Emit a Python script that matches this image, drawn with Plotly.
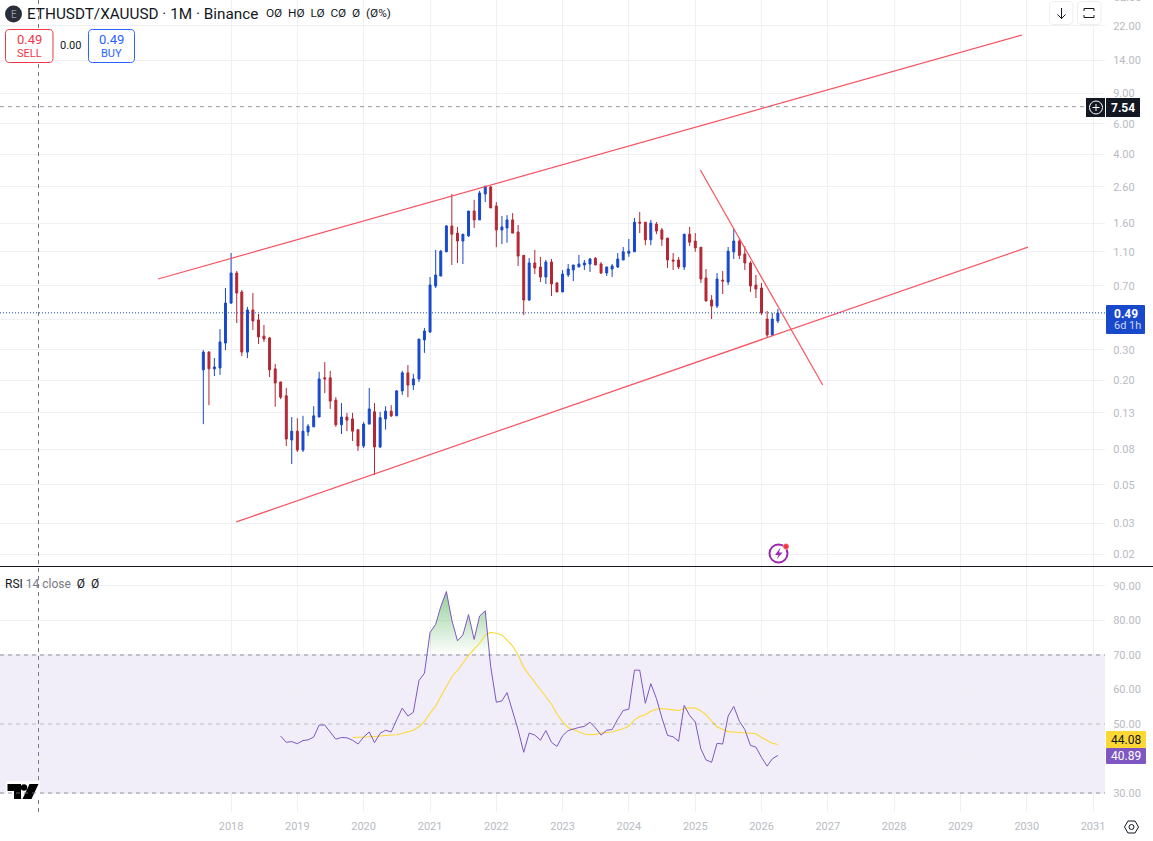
import math
import pandas as pd
import plotly.graph_objs as go

# monthly candles, Aug 2017 to Apr 2026
high = [0.299,0.295,0.269,0.395,0.681,1.084,0.853,0.663,0.530,0.637,0.482,0.417,0.356,0.249,0.196,0.181,0.123,0.121,0.125,0.112,0.142,0.224,0.255,0.227,0.160,0.148,0.130,0.130,0.104,0.115,0.181,
        0.148,0.132,0.142,0.144,0.176,0.227,0.245,0.218,0.346,0.401,0.788,1.128,1.128,1.571,2.37,1.53,1.394,1.89,2.19,2.47,2.635,2.635,2.13,1.77,1.79,1.84,1.571,1.056,1.014,1.128,1.028,0.988,1.0,0.738,0.865,0.936,0.924,1.056,
        0.987,1.014,1.027,0.961,0.900,0.936,1.083,1.173,1.304,1.724,1.866,1.634,1.678,1.634,1.509,1.322,1.083,1.027,1.394,1.529,1.412,1.173,0.876,0.620,0.831,0.853,1.173,1.489,1.304,1.188,0.974,0.809,0.728,0.502,0.489,0.516]
body_top = [0.291,0.291,0.239,0.333,0.558,0.831,0.831,0.646,0.509,0.509,0.446,0.360,0.351,0.233,0.196,0.163,0.102,0.102,0.102,0.109,0.125,0.204,0.207,0.207,0.154,0.123,0.123,0.120,0.104,0.112,0.137,0.132,0.122,0.133,0.133,
            0.174,0.221,0.221,0.204,0.346,0.385,0.709,0.809,1.11,1.55,1.55,1.41,1.39,1.89,1.89,2.4,2.63,2.6,2.02,1.53,1.68,1.68,1.43,1.05,0.949,0.949,0.9,0.961,0.961,0.728,0.82,0.876,0.924,0.936,0.949,
            1,1.01,0.936,0.9,0.912,1,1.1,1.11,1.63,1.63,1.63,1.61,1.59,1.47,1.32,0.987,0.987,1.39,1.39,1.27,1.17,0.778,0.581,0.767,0.757,1.11,1.27,1.27,1.07,0.949,0.709,0.681,0.451,0.451,0.489]
body_bot = [0.23,0.233,0.233,0.236,0.328,0.558,0.637,0.291,0.291,0.44,0.356,0.346,0.23,0.193,0.16,0.0919,0.0907,0.0794,0.0794,0.101,0.108,0.123,0.204,0.152,0.111,0.111,0.118,0.102,0.0838,0.0838,0.112,0.0827,0.0827,0.12,0.125,
            0.125,0.174,0.188,0.188,0.204,0.342,0.38,0.699,0.798,1.1,1.39,1.27,1.27,1.36,1.68,1.68,2.37,1.97,1.47,1.47,1.51,1.41,1.04,0.581,0.581,0.888,0.788,0.788,0.718,0.646,0.646,0.809,0.865,0.9,0.924,
            0.936,0.924,0.831,0.831,0.876,0.9,0.987,1.08,1.1,1.61,1.29,1.29,1.45,1.3,0.987,0.974,0.9,0.9,1.25,1.16,0.767,0.573,0.536,0.536,0.747,0.737,1.1,1.05,0.949,0.699,0.672,0.489,0.365,0.365,0.44]
low = [0.112,0.144,0.212,0.215,0.299,0.551,0.428,0.276,0.269,0.39,0.324,0.333,0.209,0.141,0.156,0.0838,0.066,0.0774,0.0774,0.0957,0.108,0.123,0.169,0.137,0.108,0.0982,0.102,0.0895,0.0784,0.0816,0.112,0.057,0.0816,0.104,0.123,0.125,0.165,0.16,0.176,0.196,0.288,0.375,0.681,0.798,1.1,0.924,0.949,0.936,1.34,1.51,1.68,2.13,1.97,1.17,1.22,1.24,1.41,0.912,0.476,0.573,0.82,0.737,0.718,0.612,0.646,0.646,0.788,0.747,0.9,0.865,0.842,0.924,0.82,0.798,0.788,0.888,0.987,1.03,1.1,1.41,1.2,1.2,1.39,1.19,0.888,0.865,0.876,0.865,1.19,1.1,0.728,0.573,0.451,0.522,0.629,0.709,1,1,0.865,0.646,0.596,0.476,0.351,0.36,0.428]
# 1 = closed up
up_month = [1,0,1,1,1,1,0,0,1,0,0,0,0,0,0,0,1,0,1,1,1,1,0,0,0,1,0,0,0,1,1,
            0,1,1,0,1,1,0,1,1,1,1,1,1,1,0,0,1,1,0,1,1,0,0,1,1,0,0,0,1,0,0,1,0,0,1,1,1,1,
            1,1,0,0,1,1,1,1,1,1,0,0,1,0,0,0,0,0,1,0,0,0,0,0,1,0,1,1,0,0,0,0,0,0,1,1]

rsi_vals = [46.5,44.7,44.9,44.3,45.2,45.4,46.2,49.7,49.7,47.6,45.6,46.1,46.0,45.3,44.2,46.2,47.7,44.6,47.3,48.2,47.7,51.2,54.6,52.3,53.4,62.6,64.7,76.5,78.9,84.0,88.4,80.1,74.1,75.8,81.7,74.5,81.3,82.8,66.6,56.3,56.7,59.1,53.6,48.3,41.8,47.4,46.8,45.3,
            48.1,44.7,43.5,46.6,48.1,48.6,49.0,49.3,50.5,48.9,46.8,48.2,48.4,51.4,53.9,54.3,65.6,65.6,56.0,61.7,57.4,51.8,46.7,46.3,45.0,55.4,52.5,50.6,42.8,39.6,38.9,44.4,44.2,52.3,55.1,50.8,48.4,43.8,43.3,40.3,37.8,39.9,40.89]
rsi_ma = [46.1,46.1,46.2,46.3,46.4,46.6,46.7,46.8,46.9,47.3,47.7,48.2,49.2,50.7,53.1,55.2,58.0,61.0,63.7,65.5,67.7,69.9,71.7,73.4,75.8,76.6,76.3,75.8,74.3,72.6,70.0,66.4,64.2,62.1,60.2,
          57.9,55.8,52.9,50.6,49.0,48.4,47.8,47.1,46.9,47.0,47.4,47.6,47.7,48.2,48.6,49.4,51.2,52.2,52.7,53.7,54.3,54.5,54.2,54.1,53.9,54.5,54.7,54.6,53.8,52.7,50.8,49.2,48.4,47.8,47.7,47.6,47.6,47.4,47.2,46.1,45.1,44.4,44.08]

# trend lines
channel_dates = ["2016-11-25", "2029-12-05"]
channel_top = [0.767, 19.5]
channel_low_dates = ["2018-01-29", "2030-01-07"]
channel_low = [0.0306, 1.17]
wedge_dates = ["2025-01-29", "2026-12-04"]
wedge = [3.26, 0.188]

# 0.45 and 40 sit under the price tags, so they get a grid line but no label
price_ticks = [22, 14, 9, 6, 4, 2.6, 1.6, 1.1, 0.7, 0.45, 0.3, 0.2, 0.13, 0.08, 0.05, 0.03, 0.02]
price_labels = ["22.00", "14.00", "9.00", "6.00", "4.00", "2.60", "1.60", "1.10", "0.70", "", "0.30", "0.20", "0.13", "0.08", "0.05", "0.03", "0.02"]
rsi_ticks = [90, 80, 70, 60, 50, 40, 30]
rsi_labels = ["90.00", "80.00", "70.00", "60.00", "50.00", "", "30.00"]
years = list(range(2018, 2032))
last_price = 0.49
line_price = 7.54

dates = pd.date_range("2017-08-01", periods=len(high), freq="MS")
rsi_dates = dates[14:]
ma_dates = dates[27:]
open_ = [b if u else t for u, t, b in zip(up_month, body_top, body_bot)]
close = [t if u else b for u, t, b in zip(up_month, body_top, body_bot)]

W, H, PLOT_W = 1153, 841, 1105
RED, BLUE = "#b22833", "#1848cc"
LINE_RED = "#f7525f"
PURPLE, YELLOW = "#7e57c2", "#fdd835"
GRID, TICK = "#eff0f3", "#b8bbc2"
FONT = "Roboto"
DASH = "4px,4px"


def px(x):
    return x / PLOT_W


def py(y):
    return 1 - y / H


def box(x0, y0, x1, y1, r=0):
    # rounded rectangle in paper coordinates, given in screen pixels
    p = lambda x, y: f"{px(x):.5f},{py(y):.5f}"
    return (f"M{p(x0 + r, y0)} L{p(x1 - r, y0)} Q{p(x1, y0)} {p(x1, y0 + r)} L{p(x1, y1 - r)} "
            f"Q{p(x1, y1)} {p(x1 - r, y1)} L{p(x0 + r, y1)} Q{p(x0, y1)} {p(x0, y1 - r)} "
            f"L{p(x0, y0 + r)} Q{p(x0, y0)} {p(x0 + r, y0)} Z")


def poly(points, close=True):
    s = " L".join(f"{px(x):.5f},{py(y):.5f}" for x, y in points)
    return "M" + s + (" Z" if close else "")


def paper_path(path, fill="rgba(0,0,0,0)", line=None, width=1):
    return dict(type="path", xref="paper", yref="paper", path=path, fillcolor=fill,
                line=dict(color=line or "rgba(0,0,0,0)", width=width), layer="above")


def circle(cx, cy, r, fill="rgba(0,0,0,0)", line=None, width=1):
    return dict(type="circle", xref="paper", yref="paper", x0=px(cx - r), x1=px(cx + r),
                y0=py(cy + r), y1=py(cy - r), fillcolor=fill,
                line=dict(color=line or "rgba(0,0,0,0)", width=width), layer="above")


def text(s, x, y, size=11, color="#131722", anchor="left", bold=False):
    if bold:
        s = f"<b>{s}</b>"
    if anchor == "left":
        x -= 2  # annotation padding
    return dict(text=s, xref="paper", yref="paper", x=px(x), y=py(y), showarrow=False,
                xanchor=anchor, yanchor="middle", font=dict(family=FONT, size=size, color=color))


fig = go.Figure()

fig.add_trace(go.Candlestick(x=dates, open=open_, high=high, low=low, close=close,
                             increasing=dict(line=dict(color=BLUE, width=1), fillcolor=BLUE),
                             decreasing=dict(line=dict(color=RED, width=1), fillcolor=RED),
                             whiskerwidth=0, hoverinfo="skip", xaxis="x", yaxis="y"))

for xs, ys in [(channel_dates, channel_top), (channel_low_dates, channel_low), (wedge_dates, wedge)]:
    fig.add_trace(go.Scatter(x=xs, y=ys, mode="lines", line=dict(color=LINE_RED, width=1.2),
                             hoverinfo="skip", xaxis="x", yaxis="y"))

# green area above 70, closed at the points where the rsi line crosses 70
t = [d.value for d in rsi_dates]
fill_x, fill_y = [], []
for i in range(len(t) - 1):
    a, b = rsi_vals[i], rsi_vals[i + 1]
    if a > 70:
        fill_x.append(pd.Timestamp(t[i]))
        fill_y.append(a)
    if (a - 70) * (b - 70) < 0:
        fill_x.append(pd.Timestamp(int(t[i] + (70 - a) / (b - a) * (t[i + 1] - t[i]))))
        fill_y.append(70)
fig.add_trace(go.Scatter(x=fill_x, y=fill_y, mode="lines", line=dict(width=0), fill="toself",
                         fillgradient=dict(type="vertical", start=70, stop=max(rsi_vals),
                                           colorscale=[[0, "rgba(76,175,80,0)"], [1, "rgba(76,175,80,0.6)"]]),
                         hoverinfo="skip", xaxis="x2", yaxis="y2"))
fig.add_trace(go.Scatter(x=ma_dates, y=rsi_ma, mode="lines", line=dict(color=YELLOW, width=1.1),
                         hoverinfo="skip", xaxis="x2", yaxis="y2"))
fig.add_trace(go.Scatter(x=rsi_dates, y=rsi_vals, mode="lines", line=dict(color=PURPLE, width=1),
                         hoverinfo="skip", xaxis="x2", yaxis="y2"))

shapes = [
    dict(type="rect", xref="x2 domain", yref="y2", x0=0, x1=1, y0=30, y1=70,
         fillcolor="rgba(126,87,194,0.1)", line=dict(width=0), layer="below"),
    dict(type="line", xref="x domain", yref="y", x0=0, x1=1086 / PLOT_W, y0=line_price, y1=line_price,
         line=dict(color="#787b86", width=0.8, dash=DASH)),
    dict(type="line", xref="x domain", yref="y", x0=0, x1=1, y0=last_price, y1=last_price,
         line=dict(color=BLUE, width=1, dash="1px,2px")),
    dict(type="line", xref="paper", yref="paper", x0=px(38.5), x1=px(38.5), y0=py(0), y1=py(812),
         line=dict(color="#787b86", width=1, dash=DASH)),
    dict(type="line", xref="paper", yref="paper", x0=0, x1=px(W), y0=py(566.5), y1=py(566.5),
         line=dict(color="#131722", width=1)),
    # sell / buy buttons
    paper_path(box(5.5, 29.5, 53, 62.5, 4), "#ffffff", "#f23645"),
    paper_path(box(88.5, 29.5, 134.5, 62.5, 4), "#ffffff", "#2962ff"),
    circle(13.5, 14, 8.5, "#2a2e39"),
    # top right buttons
    paper_path(box(1049.5, 1.5, 1073, 24.5, 4), "#ffffff", "#eeeeee"),
    paper_path(box(1077.5, 1.5, 1101, 24.5, 4), "#ffffff", "#eeeeee"),
    paper_path(poly([(1061.5, 8), (1061.5, 18.5)], False), line="#131722"),
    paper_path(poly([(1057.5, 14.5), (1061.5, 18.5), (1065.5, 14.5)], False), line="#131722"),
    paper_path(poly([(1084, 11), (1084, 8.5), (1094, 8.5), (1094, 11)], False), line="#131722"),
    paper_path(poly([(1084, 15), (1084, 17.5), (1094, 17.5), (1094, 15)], False), line="#131722"),
    # hline tag
    paper_path(box(1086, 98, 1105, 117), "#131722"),
    paper_path(box(1106, 98, 1140, 117), "#131722"),
    circle(1096, 107.5, 6.5, "#131722", "#ffffff"),
    paper_path(poly([(1092.5, 107.5), (1099.5, 107.5)], False), line="#ffffff"),
    paper_path(poly([(1096, 104), (1096, 111)], False), line="#ffffff"),
    # last price tag
    paper_path(box(1106, 305, 1145, 334, 1), BLUE),
    # rsi tags
    paper_path(box(1106, 731, 1146, 748, 1), YELLOW),
    paper_path(box(1106, 748, 1146, 764, 1), PURPLE),
    # flash icon
    circle(778.5, 553.5, 9, "rgba(0,0,0,0)", "#9c27b0", 2),
    paper_path(poly([(780.5, 547.5), (775, 555), (778.5, 555), (776.5, 559.5), (782.5, 552.5), (779, 552.5)]), "#9c27b0"),
    circle(786, 546.5, 3, "#f23645", "#ffffff", 0.5),
    # logo
    paper_path(box(6, 781, 40, 800), "#ffffff"),
    paper_path(poly([(7.5, 784), (21, 784), (21, 799), (14, 799), (14, 791), (7.5, 791)]), "#000000"),
    circle(24, 787.5, 3.2, "#000000"),
    paper_path(poly([(29.5, 784), (38.5, 784), (31.5, 799), (22.5, 799)]), "#000000"),
    # settings hexagon
    paper_path(poly([(1124.5, 827), (1128, 821), (1135, 821), (1138.5, 827), (1135, 833), (1128, 833)]), line="#131722"),
    circle(1131.5, 827, 2.5, line="#131722"),
]
for val, color in [(70, "#787b86"), (50, "rgba(120,123,134,0.6)"), (30, "#787b86")]:
    shapes.append(dict(type="line", xref="x2 domain", yref="y2", x0=0, x1=1, y0=val, y1=val,
                       line=dict(color=color, width=0.8, dash=DASH)))

annotations = [
    text("E", 13.5, 14.5, 10, "#9598a1", "center"),
    text("ETHUSDT/XAUUSD · 1M · Binance", 27, 14, 15.3),
    text("OØ  HØ  LØ  CØ  Ø  (Ø%)", 266, 13.5, 11.8),
    text("0.49", 29, 39, 13, "#f23645", "center"),
    text("SELL", 29, 53, 11, "#f23645", "center"),
    text("0.00", 70, 45, 11, "#131722", "center"),
    text("0.49", 111, 39, 13, "#2962ff", "center"),
    text("BUY", 111, 53, 11, "#2962ff", "center"),
    text("7.54", 1123, 107.5, 12, "#ffffff", "center", True),
    text("0.49", 1114, 313.5, 12, "#ffffff", "left", True),
    text("6d 1h", 1114, 326, 11, "#cfd8f5", "left"),
    text("44.08", 1126, 739.5, 12, "#131722", "center"),
    text("40.89", 1126, 756, 12, "#ffffff", "center"),
    text("32.00", 1114, -3, 11, TICK),
    text('RSI <span style="color:#787b86">14 close</span>  Ø  Ø', 5, 583.5, 12),
]

xrange_ = ["2014-07-08", "2031-03-08"]
tickvals = [f"{y}-01-01" for y in years]
axis_x = dict(range=xrange_, type="date", tickmode="array", tickvals=tickvals, ticktext=[str(y) for y in years],
              showgrid=True, gridcolor=GRID, gridwidth=1, zeroline=False, rangeslider=dict(visible=False),
              showline=False, tickfont=dict(family=FONT, size=11, color=TICK))

fig.update_layout(
    width=W, height=H, margin=dict(l=0, r=W - PLOT_W, t=0, b=0), autosize=False,
    paper_bgcolor="#ffffff", plot_bgcolor="#ffffff", showlegend=False, boxgap=0.45,
    font=dict(family=FONT),
    xaxis=dict(axis_x, domain=[0, 1], anchor="y", showticklabels=False),
    xaxis2=dict(axis_x, domain=[0, 1], anchor="y2", matches="x", showticklabels=True,
                ticks="outside", ticklen=4, tickcolor="rgba(0,0,0,0)"),
    yaxis=dict(type="log", domain=[py(566), 1], range=[math.log10(0.01706), math.log10(31.04)], side="right",
               anchor="x", tickmode="array", tickvals=price_ticks, ticktext=price_labels,
               showgrid=True, gridcolor=GRID, zeroline=False, ticks="outside", ticklen=5,
               tickcolor="rgba(0,0,0,0)", tickfont=dict(family=FONT, size=11, color=TICK)),
    yaxis2=dict(domain=[py(812), py(567)], range=[24.5, 95.5], side="right", anchor="x2", tickmode="array",
                tickvals=rsi_ticks, ticktext=rsi_labels, showgrid=True, gridcolor=GRID,
                zeroline=False, ticks="outside", ticklen=5, tickcolor="rgba(0,0,0,0)",
                tickfont=dict(family=FONT, size=11, color=TICK)),
    shapes=shapes, annotations=annotations,
)

fig.write_html("out.html", config={"displayModeBar": False}, post_script="document.body.style.margin='0';")
